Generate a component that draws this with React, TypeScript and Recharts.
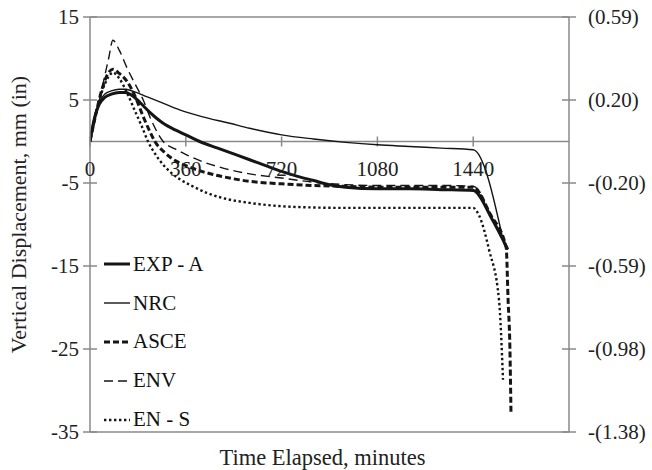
import React from 'react';
import { LineChart, Line, XAxis, YAxis, ReferenceLine, ReferenceDot } from 'recharts';

// time (minutes) and vertical displacement (mm)
const expTime = [0, 10, 20, 35, 55, 80, 110, 135, 150, 175, 200, 225, 250, 275, 320, 360, 412, 480, 540, 600, 660, 720, 780, 840, 900, 960, 1080, 1200, 1320, 1440, 1510, 1570];
const expDisp = [0, 1.8, 3.2, 4.5, 5.3, 5.7, 5.9, 5.9, 5.7, 5.1, 4.3, 3.5, 2.8, 2.2, 1.4, 0.8, 0, -0.8, -1.5, -2.2, -2.9, -3.6, -4.2, -4.7, -5.2, -5.5, -5.7, -5.7, -5.8, -5.9, -9.3, -13.0];

const nrcTime = [0, 10, 20, 35, 55, 80, 110, 135, 165, 213, 260, 337, 420, 525, 600, 720, 840, 960, 1080, 1200, 1320, 1440, 1556];
const nrcDisp = [0, 1.9, 3.4, 4.8, 5.7, 6.1, 6.3, 6.3, 6.0, 5.4, 4.8, 3.8, 3.0, 2.2, 1.6, 0.8, 0.3, -0.1, -0.4, -0.6, -0.8, -1.0, -12.4];

const asceTime = [0, 20, 45, 70, 86, 110, 140, 170, 200, 225, 244, 280, 320, 360, 420, 480, 540, 600, 720, 840, 960, 1080, 1200, 1320, 1440, 1505, 1564, 1571, 1578, 1582];
const asceDisp = [0, 3.0, 6.3, 8.3, 8.7, 8.2, 7.2, 5.4, 3.0, 1.2, 0, -1.3, -2.3, -2.9, -3.6, -4.1, -4.5, -4.8, -5.1, -5.3, -5.4, -5.5, -5.5, -5.5, -5.5, -8.8, -12.8, -19.0, -25.0, -32.7];

const envTime = [0, 20, 45, 70, 86, 110, 140, 170, 200, 230, 275, 320, 363, 420, 500, 600, 720, 840, 960, 1080, 1200, 1320, 1440, 1505, 1570];
const envDisp = [0, 2.8, 6.4, 10.0, 12.2, 11.0, 8.8, 6.9, 5.0, 2.6, 0, -0.9, -1.6, -2.4, -3.2, -3.9, -4.4, -4.9, -5.2, -5.3, -5.3, -5.3, -5.4, -8.8, -13.0];

const ensTime = [0, 20, 45, 70, 86, 110, 140, 170, 195, 218, 245, 275, 310, 340, 380, 440, 510, 600, 720, 840, 960, 1080, 1200, 1320, 1440, 1462, 1500, 1537, 1552];
const ensDisp = [0, 3.0, 6.0, 7.8, 8.3, 7.6, 5.8, 3.6, 1.8, 0, -1.5, -2.8, -3.9, -4.6, -5.3, -6.2, -6.9, -7.4, -7.8, -7.95, -8.0, -8.0, -8.0, -8.0, -8.0, -8.9, -13.1, -19.1, -28.7];

const xTicks = [0, 360, 720, 1080, 1440];
const yTicks = [15, 5, -5, -15, -25, -35];
const inchLabels = ['(0.59)', '(0.20)', '-(0.20)', '-(0.59)', '-(0.98)', '-(1.38)'];

const FONT = '"Liberation Serif", "Times New Roman", serif';
const AXIS = '#8a8a8a';
const TEXT = '#222';
const INK = '#151515';

const toPoints = (t: number[], v: number[]) => t.map((x, i) => ({ t: x, v: v[i] }));

const series = [
  { name: 'EXP - A', data: toPoints(expTime, expDisp), width: 3, dash: undefined, axis: 0 },
  { name: 'NRC', data: toPoints(nrcTime, nrcDisp), width: 1.4, dash: undefined, axis: 'right' },
  { name: 'ASCE', data: toPoints(asceTime, asceDisp), width: 3, dash: '6 3', axis: 0 },
  { name: 'ENV', data: toPoints(envTime, envDisp), width: 1.4, dash: '9 5', axis: 0 },
  { name: 'EN - S', data: toPoints(ensTime, ensDisp), width: 2.4, dash: '2.4 2.6', axis: 0 },
];

const LeftTick = (props: any) => {
  const { x, y, payload } = props;
  return (
    <g>
      <line x1={x - 7} x2={x + 7} y1={y} y2={y} stroke={AXIS} strokeWidth={1.5} />
      <text x={x - 11} y={y} dy="0.35em" textAnchor="end" fontSize={21} fontFamily={FONT} fill={TEXT}>
        {payload.value}
      </text>
    </g>
  );
};

const RightTick = (props: any) => {
  const { x, y, payload } = props;
  const label = inchLabels[yTicks.indexOf(payload.value)];
  return (
    <g>
      <line x1={x - 7} x2={x + 7} y1={y} y2={y} stroke={AXIS} strokeWidth={1.5} />
      <text x={x + 19} y={y} dy="0.35em" textAnchor="start" fontSize={21} fontFamily={FONT} fill={TEXT}>
        {label}
      </text>
    </g>
  );
};

const Swatch = ({ width, dash }: { width: number; dash?: string }) => (
  <svg width={28} height={12} style={{ display: 'block' }}>
    <line x1={1} x2={27} y1={6} y2={6} stroke={INK} strokeWidth={width} strokeDasharray={dash} />
  </svg>
);

export default function App() {
  return (
    <div style={{ position: 'absolute', left: 0, top: 0, width: 652, height: 470, background: '#fff' }}>
      <LineChart width={652} height={470} margin={{ top: 17, right: 0, bottom: 0, left: 0 }}>
        <XAxis
          dataKey="t"
          type="number"
          domain={[0, 1800]}
          allowDataOverflow
          height={38}
          tick={false}
          tickLine={false}
          axisLine={{ stroke: AXIS, strokeWidth: 1.5 }}
          label={{ value: 'Time Elapsed, minutes', position: 'insideBottom', offset: 5, dx: -7, fontSize: 22.5, fontFamily: FONT, fill: TEXT }}
        />
        <YAxis
          type="number"
          domain={[-35, 15]}
          ticks={yTicks}
          interval={0}
          width={90}
          tickSize={0}
          tickMargin={0}
          tickLine={false}
          tick={<LeftTick />}
          axisLine={{ stroke: AXIS, strokeWidth: 1.5 }}
          label={{ value: 'Vertical Displacement, mm (in)', angle: -90, position: 'insideLeft', offset: 18, dy: -10, fontSize: 22, fontFamily: FONT, fill: TEXT, style: { textAnchor: 'middle' } }}
        />
        <YAxis
          yAxisId="right"
          orientation="right"
          type="number"
          domain={[-35, 15]}
          ticks={yTicks}
          interval={0}
          width={83}
          tickSize={0}
          tickMargin={0}
          tickLine={false}
          tick={<RightTick />}
          axisLine={{ stroke: AXIS, strokeWidth: 1.5 }}
        />
        <ReferenceLine y={15} stroke={AXIS} strokeWidth={1.5} />
        <ReferenceLine y={0} stroke={AXIS} strokeWidth={1.5} />
        {xTicks.map((t) => (
          <ReferenceLine
            key={`tm-${t}`}
            segment={[{ x: t, y: -0.6 }, { x: t, y: 0.6 }]}
            stroke={AXIS}
            strokeWidth={1.5}
          />
        ))}
        {xTicks.map((t) => (
          <ReferenceDot
            key={`tl-${t}`}
            x={t}
            y={0}
            r={0}
            fill="none"
            stroke="none"
            label={{ value: String(t), position: 'bottom', offset: 20, fontSize: 21, fontFamily: FONT, fill: TEXT }}
          />
        ))}
        {series.map((s) => (
          <Line
            key={s.name}
            name={s.name}
            yAxisId={s.axis}
            data={s.data}
            dataKey="v"
            type="monotone"
            stroke={INK}
            strokeWidth={s.width}
            strokeDasharray={s.dash}
            dot={false}
            activeDot={false}
            isAnimationActive={false}
          />
        ))}
      </LineChart>

      {/* Legend */}
      <div style={{ position: 'absolute', left: 103, top: 245, fontFamily: FONT, fontSize: 21, color: '#111' }}>
        {series.map((s) => (
          <div key={s.name} style={{ display: 'flex', alignItems: 'center', height: 38.8 }}>
            <Swatch width={s.width} dash={s.dash} />
            <span style={{ marginLeft: 2 }}>{s.name}</span>
          </div>
        ))}
      </div>
    </div>
  );
}
